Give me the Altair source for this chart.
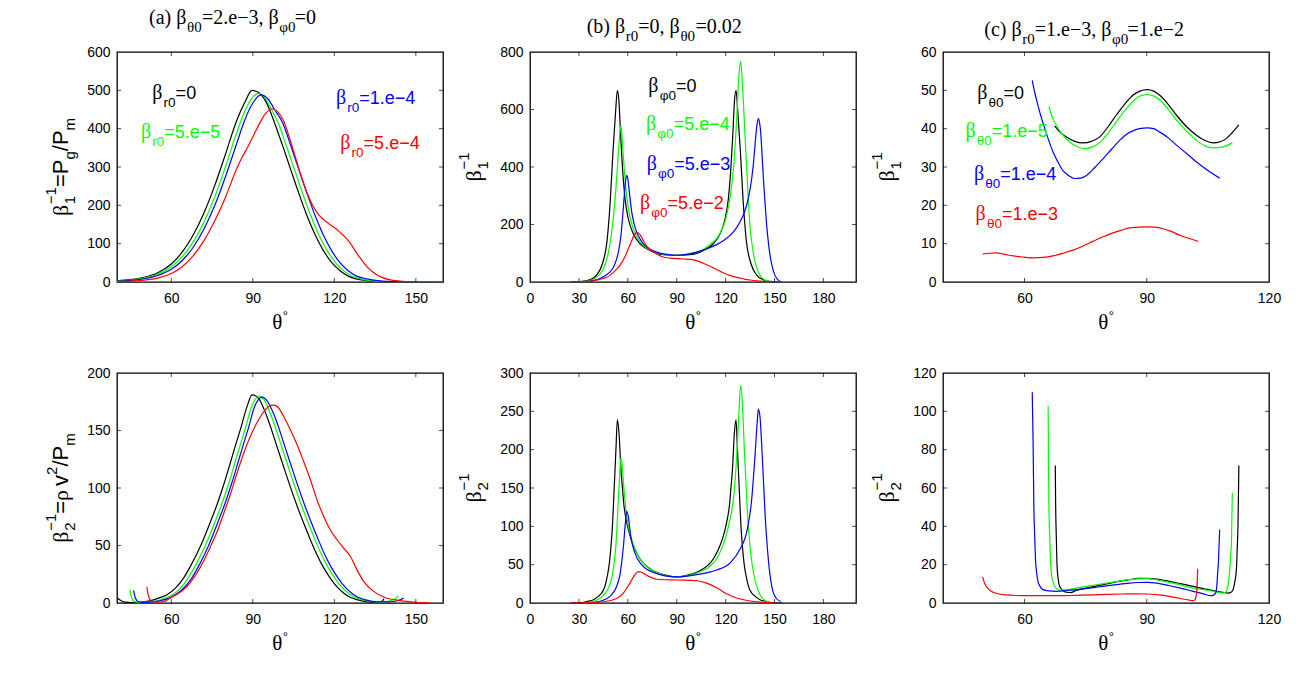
import altair as alt
import pandas as pd

# ---------------- curve data: theta (deg) and value ----------------
# (a) top: beta_1^-1 = Pg/Pm
ta_black_t = [40, 45, 50, 55, 60, 64, 68, 72, 76, 80, 84, 87, 89.7, 92, 95, 98, 101, 104, 107, 110, 113, 116, 119, 122, 125, 128, 132, 137, 142, 147]
ta_black_v = [3, 6, 12, 24, 47, 78, 122, 180, 252, 335, 420, 468, 500, 495, 468, 415, 355, 292, 230, 172, 122, 82, 51, 30, 16, 8, 3.5, 1.2, 0.3, 0]
ta_green_t = [40, 45, 50, 55, 60, 64, 68, 72, 76, 80, 84, 87, 89.5, 92, 94.5, 96.5, 99.5, 102.5, 105.5, 108.5, 111.5, 114.5, 117.5, 120.5, 123.5, 126.5, 130, 134, 139, 144, 148]
ta_green_v = [2.5, 5, 10, 20, 40, 66, 104, 156, 222, 302, 388, 445, 478, 492, 480, 455, 412, 352, 290, 228, 170, 120, 80, 50, 29, 15, 7.5, 3, 1, 0.3, 0]
ta_blue_t = [40, 45, 50, 55, 60, 64, 68, 72, 76, 80, 84, 87, 90, 93, 95.5, 98, 101, 104, 107, 110, 113, 116, 119, 122, 125, 128, 132, 136, 141, 146, 150]
ta_blue_v = [2, 4, 8.5, 17, 33, 56, 90, 138, 200, 276, 360, 422, 467, 488, 478, 450, 415, 355, 292, 230, 172, 122, 82, 51, 30, 16, 8, 3.5, 1.2, 0.3, 0]
ta_red_t = [40, 45, 50, 55, 60, 64, 68, 72, 76, 80, 84, 86, 88, 91.5, 94.5, 97, 99, 101, 104, 106, 108, 110, 112, 114, 116, 118, 120, 122, 124, 126, 128, 130, 132, 134.5, 137.5, 141, 145, 150, 155, 160]
ta_red_v = [1, 2.5, 5, 10, 22, 40, 68, 108, 160, 222, 295, 325, 350, 400, 438, 452, 445, 425, 365, 318, 272, 232, 200, 178, 163, 152, 142, 130, 117, 100, 78, 58, 40, 24, 12, 5, 2, 0.7, 0.2, 0]

# (b) top: beta_1^-1
tb_black_t = [25, 30, 34, 38, 41, 44.2, 47.3, 49.2, 50.9, 52.6, 53.6, 54.6, 55.6, 56.9, 58.3, 60.3, 63.4, 67.5, 73.6, 81.8, 90, 98.2, 106.4, 112.5, 116.6, 119.7, 121.7, 123.1, 124.4, 125.4, 126.4, 127.4, 129.1, 130.8, 132.7, 135.8, 139, 143, 147, 152]
tb_black_v = [0, 1, 4, 11, 25, 60, 145, 278, 452, 600, 667, 626, 510, 383, 290, 220, 168, 133, 110, 95, 93, 95, 110, 133, 168, 220, 290, 383, 510, 626, 667, 600, 452, 278, 145, 60, 25, 8, 2, 0]
tb_green_t = [28, 32, 37, 41, 45, 48, 50.5, 52.5, 54, 55, 55.6, 56.3, 57, 58, 59.3, 61, 63.4, 67.5, 73.6, 81.8, 90, 98.2, 106, 111, 114.5, 117.5, 119.6, 121.3, 122.7, 124, 125.2, 126.2, 126.8, 127.6, 128.2, 129.2, 130, 130.8, 131.9, 133, 134, 135.2, 136.6, 138.3, 140.1, 142, 144.2, 148.3]
tb_green_v = [0, 1, 5, 17, 45, 100, 190, 310, 430, 510, 543, 520, 460, 380, 300, 235, 185, 139, 112, 96, 93, 98, 112, 133, 151, 180, 209, 250, 290, 350, 417, 510, 568, 660, 720, 768, 720, 640, 510, 390, 278, 180, 116, 65, 35, 17, 7, 0]
tb_blue_t = [30, 34, 38, 42.9, 46, 49.1, 51.5, 53.2, 54.6, 55.8, 56.8, 57.7, 58.6, 59.3, 60, 60.7, 61.5, 62.4, 63.8, 65.4, 67.5, 69.5, 73.5, 77.7, 84, 90, 96, 102.2, 108, 114.5, 119, 122.7, 126, 128.8, 131, 132.9, 134.6, 136, 137.2, 138.2, 139.2, 140.1, 140.8, 141.5, 142.4, 143.2, 144.2, 145.2, 146.4, 147.6, 149, 150.3, 152, 153.4, 154]
tb_blue_v = [0, 1, 4, 12, 22, 35, 55, 81, 115, 162, 225, 290, 350, 371, 360, 325, 285, 244, 205, 174, 150, 133, 115, 104, 96, 93, 96, 104, 115, 130, 145, 162, 183, 209, 235, 267, 310, 359, 420, 487, 545, 568, 555, 522, 440, 359, 275, 197, 130, 81, 45, 23, 8, 2, 0]
tb_red_t = [25, 30, 35, 40.9, 45, 49.1, 52, 55.2, 58, 60.3, 62, 63.4, 64.5, 65.4, 66.3, 67.5, 69, 70.6, 73, 75.7, 78.5, 81.8, 86, 90, 94, 98.2, 101, 104.3, 108, 111.5, 115, 118.6, 122.5, 126.8, 131, 135, 139, 143.2, 147, 151.3]
tb_red_v = [0, 1, 2, 6, 12, 23, 38, 58, 85, 116, 138, 157, 168, 172, 171, 165, 150, 133, 116, 104, 95, 87, 83, 81, 80, 79, 76, 70, 61, 52, 42, 32, 23, 16, 11, 7, 4, 2, 1, 0]

# (c) top: beta_1^-1
tc_black_t = [67.4, 68.5, 70.3, 72.3, 74.4, 76.4, 78.4, 80.5, 82.5, 84.5, 86.6, 88.3, 90.1, 91.7, 93.2, 95.3, 97.3, 99.8, 102.2, 104.3, 106.3, 108, 109.5, 111, 112.6]
tc_black_v = [40.7, 39.3, 37.8, 36.7, 36.3, 36.7, 37.8, 40.5, 43.5, 46.3, 48.7, 49.8, 50.2, 49.8, 48.7, 46.3, 43.5, 40.5, 38.3, 36.9, 36.3, 36.6, 37.4, 39, 41]
tc_green_t = [66, 66.8, 67.8, 69.4, 71.1, 73, 74.8, 76.6, 78.4, 80.5, 82.5, 84.5, 86.6, 88.3, 90.1, 91.8, 93.6, 95.5, 97.3, 99.8, 102.2, 104.3, 106.3, 108.5, 111]
tc_green_v = [45.8, 43, 40.9, 38.3, 36.5, 35.3, 34.8, 35.2, 36.3, 38.8, 41.7, 44.6, 47.1, 48.5, 48.9, 48.5, 47.1, 44.8, 42.2, 39.3, 37, 35.5, 35, 35.2, 36.3]
tc_blue_t = [61.9, 62.5, 63.3, 64.1, 65, 66, 67, 68.2, 69.4, 70.8, 72.3, 73.8, 75.2, 77.2, 79.3, 81.4, 83.4, 85.2, 87, 88.6, 90.1, 91.7, 93.2, 95.3, 97.3, 99.8, 102.2, 105, 107.9]
tc_blue_v = [52.6, 49.5, 46.1, 43, 40, 36.8, 33.9, 31.3, 29.1, 27.8, 27, 27.1, 27.8, 29.8, 32.2, 34.7, 37, 38.7, 39.6, 40.1, 40.2, 40, 39.1, 37.6, 35.7, 33.5, 31.3, 29.1, 27.1]
tc_red_t = [49.7, 51.4, 53.1, 55.2, 57.2, 59.7, 62.1, 64.6, 67, 69.5, 71.9, 74.4, 76.8, 79.3, 81.7, 83.8, 85.8, 88, 90.1, 92, 94, 96, 98.1, 100.3, 102.6]
tc_red_v = [7.3, 7.5, 7.6, 7.2, 6.8, 6.5, 6.3, 6.4, 6.8, 7.5, 8.3, 9.4, 10.6, 11.8, 12.8, 13.5, 14.1, 14.3, 14.4, 14.3, 13.9, 13.2, 12.2, 11.4, 10.6]

# (a) bottom: beta_2^-1 = rho v^2/Pm
ba_black_t = [40, 41.5, 43, 45, 48, 52.3, 55, 58.4, 61.5, 64.5, 67.5, 70.7, 73.8, 76.8, 79.3, 81.7, 83.6, 85.4, 87.9, 89.7, 92.1, 95.2, 98.9, 101.4, 103.8, 106.2, 108.7, 111.2, 113.6, 116, 118.5, 121, 123.4, 125.8, 128.3, 133.3, 136, 137.5, 138.3]
ba_black_v = [4.3, 2, 0.7, 0.3, 0.6, 2, 4, 7.2, 13, 21.7, 34, 49.3, 67, 85.5, 103, 121.7, 137, 150.7, 171, 181, 178, 162, 136, 118, 101, 85, 69.5, 55, 42, 31, 21.7, 14, 8.7, 5, 2.9, 0.8, 0.7, 1.5, 3.8]
ba_green_t = [44.7, 45.2, 45.8, 46.5, 48, 50, 53, 56, 60, 63, 66.2, 69.2, 72.4, 75.5, 78.5, 81, 83.4, 85.3, 87.1, 89.6, 92.2, 94, 96.9, 100.6, 103.1, 105.5, 107.9, 110.4, 112.9, 115.3, 117.7, 120.2, 122.7, 125.1, 127.5, 130, 134, 138, 140.5, 142.3, 143.5]
ba_green_v = [11.6, 6, 2.5, 1.2, 0.6, 0.7, 1.3, 2.8, 6.5, 12, 21.7, 34, 49.3, 67, 85.5, 103, 121.7, 137, 150.7, 171, 180, 177, 162, 136, 118, 101, 85, 69.5, 55, 42, 31, 21.7, 14, 8.7, 5, 2.9, 1.2, 0.9, 1.8, 3.5, 6.2]
ba_blue_t = [46.1, 46.6, 47.2, 47.9, 50, 53, 56, 59, 62, 64.8, 67.5, 70.5, 73.6, 76.6, 79.6, 82.1, 84.5, 86.4, 88.2, 90.7, 93.4, 95.2, 98.1, 101.8, 104.3, 106.7, 109.1, 111.6, 114.1, 116.5, 118.9, 121.4, 123.9, 126.3, 128.7, 131.2, 135.5, 140, 142.5, 144.3, 145.5]
ba_blue_v = [11, 5.5, 2.4, 1.1, 0.5, 0.9, 2, 4, 8, 13.5, 21.7, 34, 49.3, 67, 85.5, 103, 121.7, 137, 150.7, 171, 179, 176, 162, 136, 118, 101, 85, 69.5, 55, 42, 31, 21.7, 14, 8.7, 5, 2.9, 1.1, 0.9, 1.5, 2.8, 4.4]
ba_red_t = [51, 51.5, 52, 52.8, 55, 57, 59.6, 62, 64.5, 67, 69.4, 72, 74.4, 77, 79.3, 81.8, 84.2, 86.6, 89.1, 92.8, 95, 97.3, 98.9, 101.4, 103.8, 106.3, 108.7, 111.2, 113.6, 116.1, 118.5, 121, 123.4, 125.9, 128.3, 130.8, 134.5, 138.2, 144.3, 150, 155.3]
ba_red_v = [14, 7, 3.5, 1.4, 0.8, 1.1, 4.3, 7.5, 11.6, 18, 26, 37, 49, 63, 78, 95, 113, 130, 145, 162, 169, 172, 171, 162, 150.7, 137.7, 123.2, 107.2, 89.8, 75.3, 63.7, 55, 47.8, 40.6, 29, 18.8, 10.1, 5.2, 2, 0.6, 0]

# (b) bottom: beta_2^-1
bb_black_t = [25, 30.7, 35, 38.9, 42, 44, 46, 47.4, 48.7, 49.7, 50.7, 51.5, 52.3, 52.8, 53.6, 54.6, 55.8, 56.8, 57.7, 58.9, 60.3, 62.2, 64.4, 66.8, 69.5, 73.5, 77.7, 84, 90, 96, 102.3, 106.5, 110.5, 113.2, 115.6, 117.8, 119.7, 121.1, 122.3, 123.2, 124.2, 125.4, 126.4, 127.2, 127.7, 128.5, 129.3, 130.3, 131.3, 132.6, 134, 136, 138, 141.1, 145, 149.3, 155]
bb_black_v = [0, 0.3, 2, 4.3, 9, 13, 22, 35, 52, 74, 105, 143, 180, 204, 239, 222, 174, 148, 126, 110, 96, 82, 70, 60, 52, 45, 40, 36, 34, 36, 40, 45, 52, 60, 70, 82, 96, 110, 126, 148, 174, 222, 239, 204, 180, 143, 105, 74, 52, 35, 22, 13, 9, 4.3, 2, 0.3, 0]
bb_green_t = [33.7, 41.9, 47, 50.7, 52.8, 54.2, 55.2, 55.6, 56.4, 57.7, 59.3, 61.3, 64.4, 69.5, 77.7, 90, 102.3, 110.4, 115.5, 119.6, 122.7, 125.2, 126.8, 128.2, 129.2, 130.3, 131.5, 133.3, 135.4, 138, 141.1, 144.2, 148.3]
bb_green_v = [0, 5, 15, 39, 78, 135, 174, 188, 183, 148, 113, 91, 70, 52, 40, 34, 39, 48, 61, 83, 109, 143, 191, 248, 284, 261, 200, 122, 65, 30, 11, 3, 0]
bb_blue_t = [35.8, 44, 49.1, 52.8, 55.2, 57.3, 58.5, 59.3, 60.3, 61.8, 64.4, 68.5, 75.7, 90, 102.3, 114.5, 122.7, 128.8, 133.3, 136, 138, 139.5, 140.1, 141.1, 142.5, 144.2, 146.2, 148.3, 150.9, 153.8]
bb_blue_v = [0, 3, 8.7, 20, 37, 74, 104, 120, 113, 87, 65, 50, 40, 34, 37, 43, 52, 70, 96, 135, 191, 239, 253, 243, 191, 117, 57, 22, 6.5, 2]
bb_red_t = [24.5, 40.9, 51.1, 57.3, 61.3, 64.4, 66.5, 68.5, 72.6, 77.7, 90, 102.3, 108.4, 114.5, 120.7, 126.8, 135, 143.2, 151.3]
bb_red_v = [0, 1, 4.3, 13, 26, 37, 41, 40, 35, 31, 30, 29, 26, 20, 12, 6.5, 2.6, 1, 0]

# (c) bottom: beta_2^-1
bc_black_t = [67.55, 67.65, 67.8, 68, 68.3, 68.6, 69.3, 70.3, 71.3, 72.7, 76, 79.3, 82.5, 85.8, 88, 90.1, 92.5, 95.6, 98.5, 101.4, 104.3, 107.1, 108.6, 110, 110.7, 111.2, 111.6, 112, 112.2, 112.4, 112.5, 112.6]
bc_black_v = [71.8, 50, 35, 19.1, 12, 8.7, 6.8, 5.6, 5.4, 6.6, 8.2, 9.6, 11, 12.2, 12.8, 12.9, 12.5, 11.3, 10, 8.7, 7.3, 6.1, 5.6, 5.2, 5.6, 7, 11, 17.4, 28, 41.7, 56, 71.7]
bc_green_t = [65.8, 65.85, 65.9, 66, 66.2, 66.4, 66.6, 67, 67.4, 68, 68.6, 70, 72.7, 76, 79.3, 82.5, 85.8, 88, 90.1, 92.5, 95.6, 98.5, 101.4, 104, 106.3, 107.5, 108.5, 109.2, 109.6, 110, 110.3, 110.6, 110.8, 110.9, 111]
bc_green_v = [102.6, 85, 67.8, 50, 33, 22, 15.7, 11, 8.7, 7.3, 6.6, 6.8, 7.8, 8.9, 10.1, 11.2, 12.2, 12.6, 12.7, 12.1, 10.8, 9.3, 7.8, 6.9, 6.1, 5.6, 5.2, 5.4, 6.5, 10, 15.7, 25, 33, 45, 57.4]
bc_blue_t = [61.9, 62, 62.1, 62.2, 62.3, 62.5, 62.7, 63, 63.3, 63.8, 64.5, 66, 67.8, 70, 72.7, 76, 79.3, 82.5, 85.8, 88, 90.1, 92.5, 95.6, 98.5, 101.4, 103.7, 105.8, 106.4, 106.9, 107.2, 107.4, 107.6, 107.7, 107.9]
bc_blue_v = [110, 97, 85, 67, 50, 35, 22.6, 15.5, 11.3, 8.8, 7, 6.3, 6.1, 6.4, 7, 7.8, 8.7, 9.6, 10.4, 10.7, 10.8, 10.4, 9, 7.6, 6.1, 4.9, 3.8, 4.1, 5.2, 9, 15.7, 22, 27.8, 38.3]
bc_red_t = [49.7, 50.1, 50.6, 51.3, 52.3, 53.8, 55.5, 58, 61.3, 65, 68.6, 72.7, 76.8, 80.5, 84.2, 87, 90.1, 93, 95.6, 97.5, 98.9, 100.2, 101.2, 101.6, 101.9, 102.1, 102.3, 102.4, 102.5]
bc_red_v = [13.6, 11, 8.7, 7, 5.6, 4.7, 4.2, 3.9, 3.8, 3.8, 3.8, 4, 4.2, 4.5, 4.7, 4.8, 4.7, 4.2, 3.5, 2.7, 2.1, 1.6, 1.2, 1.3, 1.7, 3.5, 7, 12, 17.9]

# ---------------- legend-style labels inside the panels ----------------
top_a_labels = [(53.0, 478, "=0", "#000000"), (48.8, 376, "=5.e\u22125", "#00ff00"),
                (120.6, 465, "=1.e\u22124", "#0000ff"), (122.2, 348, "=5.e\u22124", "#ff0000")]
top_b_labels = [(72.6, 661, "=0", "#000000"), (71.2, 528, "=5.e\u22124", "#00ff00"),
                (71.6, 388, "=5.e\u22123", "#0000ff"), (67.5, 255, "=5.e\u22122", "#ff0000")]
top_c_labels = [(48.4, 47.8, "=0", "#000000"), (45.5, 37.8, "=1.e\u22125", "#00ff00"),
                (47.6, 26.5, "=1.e\u22124", "#0000ff"), (48.0, 16.1, "=1.e\u22123", "#ff0000")]

BLACK, GREEN, BLUE, RED = "#000000", "#00ff00", "#0000ff", "#ff0000"
W, H = 326, 230
SANS = "Liberation Sans"
SERIF = "Liberation Serif"

SANS_W = {c: 556 for c in "0123456789"}
SANS_W.update({".": 278, "=": 584, "e": 556, "\u2212": 584, "r": 333, "m": 833, "g": 556, "P": 667,
               "/": 278, "v": 500, " ": 278, ",": 278, "\u03b8": 556, "\u03c6": 650,
               "\u03c1": 578, "\u03b2": 575, "\u00b0": 400})
SERIF_W = {c: 500 for c in "0123456789"}
SERIF_W.update({".": 250, "=": 564, "e": 444, "\u2212": 564, ",": 250, " ": 250,
                "(": 333, ")": 333, "a": 444, "b": 500, "c": 444, "r": 333, "\u03b2": 540,
                "\u03b8": 500, "\u03c6": 530, "\u03c1": 500, "\u00b0": 400})


def text_width(s, family, size):
    table = SERIF_W if family == SERIF else SANS_W
    return sum(table.get(ch, 556) for ch in s) * size / 1000.0


def seg_width(seg):
    text, fam, size, dy, adv = seg
    if text is None:          # plain horizontal gap of `size` pixels
        return size
    return text_width(text, fam, size) if adv else 0.0


ONE = pd.DataFrame({"k": [0]})


def rich_text(segs, x0, y0, angle=0, color="black"):
    """segs: (text, family, size, dy, advances) laid out left to right from (x0, y0)."""
    layers = []
    pos = 0.0
    for seg in segs:
        text, fam, size, dy, adv = seg
        if text is not None:
            layers.append(
                alt.Chart(ONE).mark_text(text=text, font=fam, fontSize=size, dx=pos, dy=dy, angle=angle,
                                         align="left", baseline="alphabetic", color=color)
                .encode(x=alt.value(x0), y=alt.value(y0))
            )
        pos += seg_width(seg)
    return layers


def y_title(segs):
    total = sum(seg_width(s) for s in segs)
    return rich_text(segs, -49, H / 2 + total / 2, angle=270)


def x_title():
    segs = [("\u03b8", SERIF, 21, 0, True), ("\u00b0", SANS, 13, -9, True)]
    total = sum(seg_width(s) for s in segs)
    return rich_text(segs, W / 2 - total / 2, H + 47)


def panel(curves, xdom, ydom, xlabels, ylabels, xin, yin, labels=None, extra=()):
    xs = alt.Scale(domain=xdom, nice=False, zero=False)
    ys = alt.Scale(domain=ydom, nice=False, zero=False)
    xa = alt.Axis(values=xlabels, title=None, labelPadding=9, labelOverlap=False, labelFlush=False)
    ya = alt.Axis(values=ylabels, title=None, labelPadding=7, labelOverlap=False, labelFlush=False)
    X = lambda: alt.X("theta:Q", scale=xs, axis=xa)
    Y = lambda: alt.Y("val:Q", scale=ys, axis=ya)

    rows = []
    for color, ts, vs in curves:
        for i, (t, v) in enumerate(zip(ts, vs)):
            rows.append({"theta": t, "val": v, "col": color, "i": i})
    df = pd.DataFrame(rows)
    lines = alt.Chart(df).mark_line(strokeWidth=1.2, interpolate="monotone", clip=True).encode(
        x=X(), y=Y(), color=alt.Color("col:N", scale=None), order="i:Q")

    xt = pd.DataFrame({"theta": xin})
    yt = pd.DataFrame({"val": yin})
    tick = dict(size=4, thickness=1, color="black")
    ticks = [
        alt.Chart(xt).mark_tick(orient="vertical", **tick).encode(x=X(), y=alt.value(H - 2)),
        alt.Chart(xt).mark_tick(orient="vertical", **tick).encode(x=X(), y=alt.value(2)),
        alt.Chart(yt).mark_tick(orient="horizontal", **tick).encode(y=Y(), x=alt.value(2)),
        alt.Chart(yt).mark_tick(orient="horizontal", **tick).encode(y=Y(), x=alt.value(W - 2)),
    ]
    lab = []
    if labels is not None:
        items, sub = labels
        ldf = pd.DataFrame(items, columns=["theta", "val", "rest", "col"])
        base = alt.Chart(ldf).encode(x=X(), y=Y(), color=alt.Color("col:N", scale=None))
        wb = text_width("\u03b2", SERIF, 20) + 0.5
        ws = text_width(sub, SANS, 13.5)
        lab = [
            base.mark_text(text="\u03b2", font=SERIF, fontSize=20, align="left", baseline="alphabetic"),
            base.mark_text(text=sub, font=SANS, fontSize=13.5, dx=wb, dy=8, align="left", baseline="alphabetic"),
            base.mark_text(font=SANS, fontSize=18, dx=wb + ws, align="left",
                           baseline="alphabetic").encode(text="rest:N"),
        ]
    return alt.layer(lines, *ticks, *lab, *extra).properties(width=W, height=H)


def title(parts, x0, y0):
    segs = []
    for text, kind in parts:
        if kind == "sub":
            segs.append((text, SERIF, 15, 8, True))
        else:
            segs.append((text, SERIF, 20, 0, True))
    return rich_text(segs, x0, y0)


B = "\u03b2"
MINUS = "\u2212"


def beta_title(sub):
    return [(B, SERIF, 22, 0, True), (sub, SANS, 15, 7, False), (MINUS + "1", SANS, 15, -12, True)]


ya_top = beta_title("1") + [("=P", SANS, 22, 0, True), ("g", SANS, 15, 7, True),
                            ("/P", SANS, 22, 0, True), ("m", SANS, 15, 7, True)]
ya_bot = beta_title("2") + [("=", SANS, 22, 0, True), ("\u03c1", SERIF, 22, 0, True), (None, None, 4, 0, True),
                            ("v", SANS, 22, 0, True), ("2", SANS, 15, -11, True), ("/P", SANS, 22, 0, True),
                            ("m", SANS, 15, 7, True)]

anchor = alt.Chart(ONE).mark_rule(color="white", strokeWidth=1).encode(
    x=alt.value(-115.5), x2=alt.value(-114), y=alt.value(-50.5), y2=alt.value(-50.5))

p1 = panel(
    [(BLACK, ta_black_t, ta_black_v), (GREEN, ta_green_t, ta_green_v),
     (BLUE, ta_blue_t, ta_blue_v), (RED, ta_red_t, ta_red_v)],
    [40, 160], [0, 600], [60, 90, 120, 150], [0, 100, 200, 300, 400, 500, 600],
    [60, 90, 120, 150], [100, 200, 300, 400, 500],
    labels=(top_a_labels, "r0"),
    extra=[anchor] + y_title(ya_top) + x_title()
    + title([("(a) ", ""), (B, ""), ("\u03b80", "sub"), ("=2.e" + MINUS + "3, ", ""), (B, ""),
             ("\u03c60", "sub"), ("=0", "")], 32, -28.3),
)
p2 = panel(
    [(BLACK, tb_black_t, tb_black_v), (GREEN, tb_green_t, tb_green_v),
     (BLUE, tb_blue_t, tb_blue_v), (RED, tb_red_t, tb_red_v)],
    [0, 200], [0, 800], [0, 30, 60, 90, 120, 150, 180], [0, 200, 400, 600, 800],
    [30, 60, 90, 120, 150, 180], [200, 400, 600],
    labels=(top_b_labels, "\u03c60"),
    extra=y_title(beta_title("1")) + x_title()
    + title([("(b) ", ""), (B, ""), ("r0", "sub"), ("=0, ", ""), (B, ""),
             ("\u03b80", "sub"), ("=0.02", "")], 56.7, -19.3),
)
p3 = panel(
    [(BLACK, tc_black_t, tc_black_v), (GREEN, tc_green_t, tc_green_v),
     (BLUE, tc_blue_t, tc_blue_v), (RED, tc_red_t, tc_red_v)],
    [40, 120], [0, 60], [60, 90, 120], [0, 10, 20, 30, 40, 50, 60],
    [60, 90], [10, 20, 30, 40, 50],
    labels=(top_c_labels, "\u03b80"),
    extra=y_title(beta_title("1")) + x_title()
    + title([("(c) ", ""), (B, ""), ("r0", "sub"), ("=1.e" + MINUS + "3, ", ""), (B, ""),
             ("\u03c60", "sub"), ("=1.e" + MINUS + "2", "")], 41.3, -16),
)
p4 = panel(
    [(BLACK, ba_black_t, ba_black_v), (GREEN, ba_green_t, ba_green_v),
     (BLUE, ba_blue_t, ba_blue_v), (RED, ba_red_t, ba_red_v)],
    [40, 160], [0, 200], [60, 90, 120, 150], [0, 50, 100, 150, 200],
    [60, 90, 120, 150], [50, 100, 150],
    extra=y_title(ya_bot) + x_title(),
)
p5 = panel(
    [(BLACK, bb_black_t, bb_black_v), (GREEN, bb_green_t, bb_green_v),
     (BLUE, bb_blue_t, bb_blue_v), (RED, bb_red_t, bb_red_v)],
    [0, 200], [0, 300], [0, 30, 60, 90, 120, 150, 180], [0, 50, 100, 150, 200, 250, 300],
    [30, 60, 90, 120, 150, 180], [50, 100, 150, 200, 250],
    extra=y_title(beta_title("2")) + x_title(),
)
p6 = panel(
    [(BLACK, bc_black_t, bc_black_v), (GREEN, bc_green_t, bc_green_v),
     (BLUE, bc_blue_t, bc_blue_v), (RED, bc_red_t, bc_red_v)],
    [40, 120], [0, 120], [60, 90, 120], [0, 20, 40, 60, 80, 100, 120],
    [60, 90], [20, 40, 60, 80, 100],
    extra=y_title(beta_title("2")) + x_title(),
)

chart = alt.concat(p1, p2, p3, p4, p5, p6, columns=3, spacing={"row": 91, "column": 87}, bounds="flush") \
    .properties(padding=0, background="white") \
    .configure_view(stroke="black", strokeWidth=1.3) \
    .configure_axis(grid=False, ticks=False, tickSize=0, domain=False, labelFlush=False, labelOverlap=False,
                    labelFont=SANS, labelFontSize=14, labelColor="black")

chart.save("out.html", embed_options={"renderer": "svg", "actions": False})
